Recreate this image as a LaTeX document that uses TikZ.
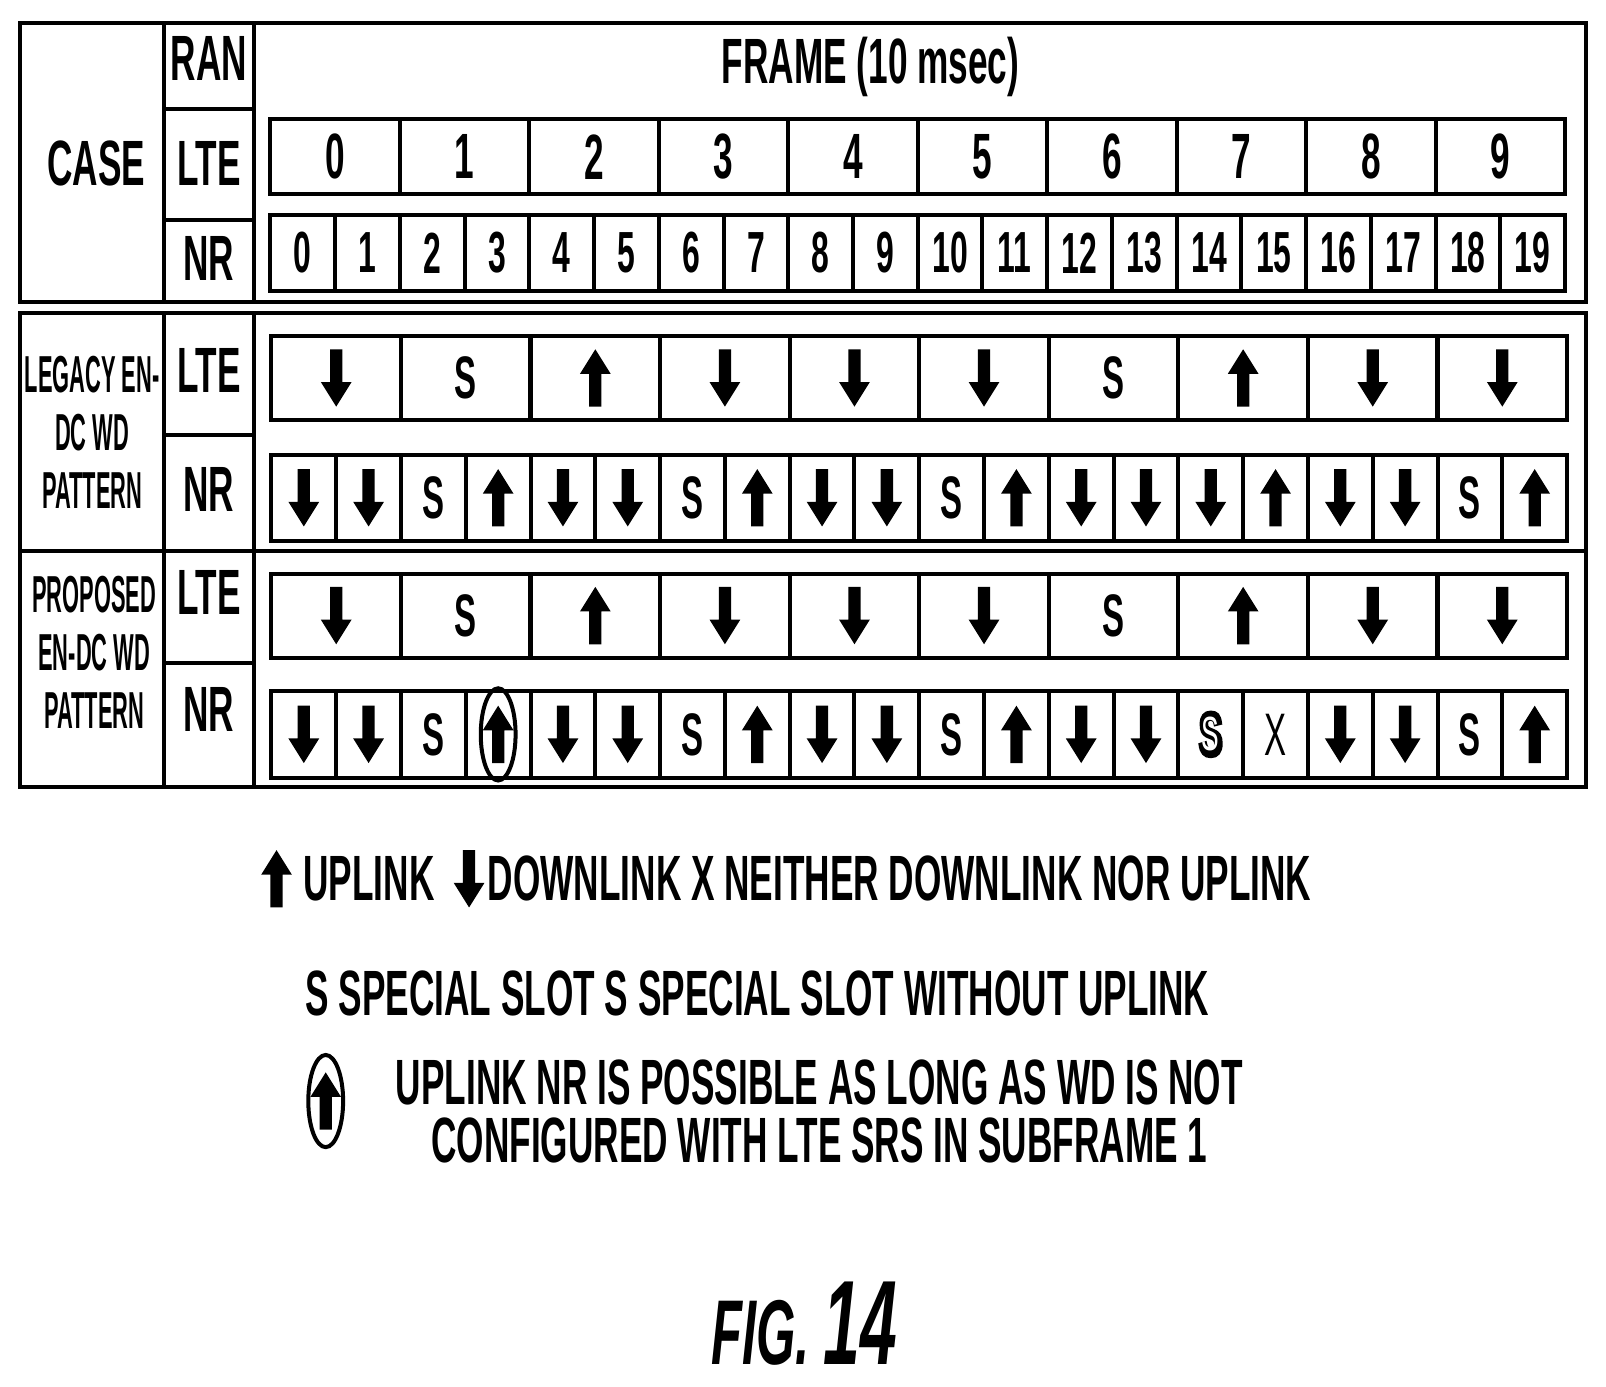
\documentclass[tikz,border=0pt]{standalone}
\usepackage{fontspec}
\setmainfont{Liberation Sans}[FakeStretch=0.55]
\newfontfamily\narrowf{Liberation Sans}[FakeStretch=0.42]
\newfontfamily\heavyS{Liberation Sans}[FakeStretch=0.55,FakeBold=6]
\usetikzlibrary{shapes,calc,positioning}
\tikzset{
  lbl/.style={font=\bfseries\fontsize{32}{32}\selectfont, inner sep=0pt},
  cell/.style={draw, line width=2pt, inner sep=0pt, minimum width=#1},
  symd/.pic={\fill (-6,-28)--(-6,4)--(-15,4)--(0,28)--(15,4)--(6,4)--(6,-28)--cycle;},
  symu/.pic={\fill (-6,28)--(-6,-4)--(-15,-4)--(0,-28)--(15,-4)--(6,-4)--(6,28)--cycle;},
  syms/.pic={\node[font=\bfseries\fontsize{30}{30}\selectfont] {S};},
  symx/.pic={\node[font=\fontsize{30}{30}\selectfont] {X};},
  symh/.pic={\node[font=\heavyS\bfseries\fontsize{31}{31}\selectfont] {S};
             \node[white,font=\fontsize{24}{24}\selectfont] {S};},
  symc/.pic={\pic {symu}; \draw[line width=2pt] (0,0) ellipse (17 and 45);},
}
\begin{document}
\begin{tikzpicture}[x=0.512pt, y=-0.512pt]
\useasboundingbox (0,0) rectangle (1568,1354);
% table frames
\draw[line width=2pt] (20,22) rectangle (1548,295);
\draw[line width=2pt] (20,306) rectangle (1548,768);
\draw[line width=2pt] (160,22) -- (160,295) (248,22) -- (248,295);
\draw[line width=2pt] (160,306) -- (160,768) (248,306) -- (248,768);
\draw[line width=2pt] (160,106) -- (248,106) (160,215) -- (248,215);
\draw[line width=2pt] (160,425) -- (248,425) (20,538) -- (1548,538) (160,647) -- (248,647);
% row labels
\node[lbl] (case) at (94,160) {CASE};
\node[lbl] (ran) at (204,57) {RAN};
\node[lbl] (lteh) at (204,160) {LTE};
\node[lbl] (nrh) at (204,252) {NR};
\node[lbl, align=center, font=\narrowf\bfseries\fontsize{26}{29}\selectfont] (legacy) at (90,422) {LEGACY EN-\\DC WD\\PATTERN};
\node[lbl] (ltel) at (204,362) {LTE};
\node[lbl] (nrl) at (204,478) {NR};
\node[lbl, align=center, font=\narrowf\bfseries\fontsize{26}{29}\selectfont] (proposed) at (92,637) {PROPOSED\\EN-DC WD\\PATTERN};
\node[lbl] (ltep) at (204,578) {LTE};
\node[lbl] (nrp) at (204,693) {NR};
\node[lbl] (frame) at (850,65) {FRAME (10 msec)};
% header strips
\foreach \i in {0,...,9}
  \node[cell=64.7pt, minimum height=37.4pt, lbl] (hl\i) at ({264+126.4*(\i+0.5)},153) {\i};
\foreach \i in {0,...,19}
  \node[cell=32.36pt, minimum height=38pt, lbl, font=\bfseries\fontsize{29}{29}\selectfont] (hn\i) at ({264+63.2*(\i+0.5)},247) {\i};
% legacy pattern
\foreach \s [count=\i from 0] in {d,s,u,d,d,d,s,u,d,d}{
  \node[cell=64.7pt, minimum height=42pt] (al\i) at ({265+126.5*(\i+0.5)},369) {};
  \pic at (al\i.center) {sym\s};}
\foreach \s [count=\i from 0] in {d,d,s,u,d,d,s,u,d,d,s,u,d,d,d,u,d,d,s,u}{
  \node[cell=32.38pt, minimum height=43pt] (an\i) at ({265+63.25*(\i+0.5)},486) {};
  \pic at (an\i.center) {sym\s};}
% proposed pattern
\foreach \s [count=\i from 0] in {d,s,u,d,d,d,s,u,d,d}{
  \node[cell=64.7pt, minimum height=42pt] (bl\i) at ({265+126.5*(\i+0.5)},601) {};
  \pic at (bl\i.center) {sym\s};}
\foreach \s [count=\i from 0] in {d,d,s,c,d,d,s,u,d,d,s,u,d,d,h,x,d,d,s,u}{
  \node[cell=32.38pt, minimum height=43.5pt] (bn\i) at ({265+63.25*(\i+0.5)},717) {};
  \pic at (bn\i.center) {sym\s};}
% legend
\pic at (270,858) {symu};
\node[lbl, anchor=west] (upl) at (296,858) {UPLINK};
\pic at (458,858) {symd};
\node[lbl, anchor=west] (dnl) at (476,858) {DOWNLINK X NEITHER DOWNLINK NOR UPLINK};
\node[lbl, anchor=west] (spl) at (298,970) {S SPECIAL SLOT S SPECIAL SLOT WITHOUT UPLINK};
\pic at (318,1075) {symc};
\node[lbl, align=center, font=\bfseries\fontsize{32}{29}\selectfont] (cond) at (800,1085) {UPLINK NR IS POSSIBLE AS LONG AS WD IS NOT\\CONFIGURED WITH LTE SRS IN SUBFRAME 1};
\node[lbl, font=\bfseries\itshape\fontsize{46}{46}\selectfont] (fig) at (785,1292) {FIG. \fontsize{60}{60}\selectfont 14};
\end{tikzpicture}
\end{document}
